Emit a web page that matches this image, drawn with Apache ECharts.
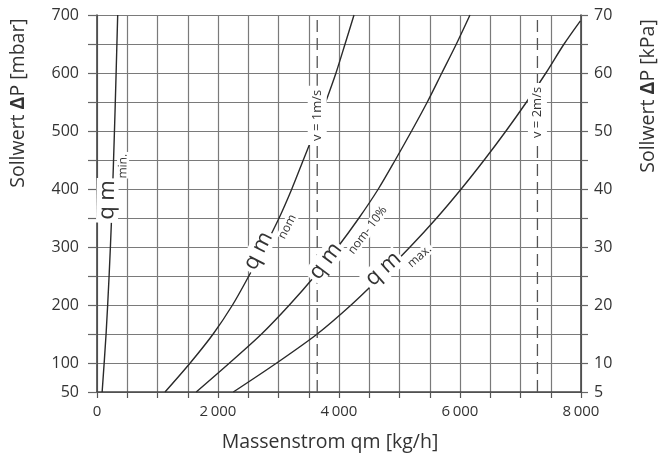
<!DOCTYPE html>
<html><head><meta charset="utf-8">
<script src="https://cdn.jsdelivr.net/npm/echarts@6/dist/echarts.min.js"></script>
<style>html,body{margin:0;padding:0;background:#fff}#c{width:668px;height:463px}</style>
</head><body><div id="c"></div>
<script>
// ---- data (mass flow kg/h, set-point pressure mbar) ----
const flowMin  = [85, 150, 200, 243, 270, 300, 342];
const dpMin    = [50, 150, 250, 355, 438, 540, 700];
const flowNom  = [1124, 1540, 1920, 2240, 2510, 2770, 3010, 3220, 3410, 3600, 3780, 3950, 4100, 4248];
const dpNom    = [50, 100, 150, 200, 250, 300, 350, 400, 450, 500, 550, 600, 650, 700];
const flowNom10 = [1640, 2190, 2720, 3180, 3600, 3980, 4330, 4650, 4930, 5200, 5460, 5700, 5940, 6165];
const dpNom10   = [50, 100, 150, 200, 250, 300, 350, 400, 450, 500, 550, 600, 650, 700];
const flowMax  = [2253, 2970, 3640, 4200, 4700, 5174, 5615, 6020, 6400, 6760, 7100, 7420, 7720, 7990];
const dpMax    = [50, 100, 150, 200, 250, 300, 350, 400, 450, 500, 550, 600, 650, 690];
const speedFlows = [3640, 7280];
const speedTexts = ['v = 1m/s', 'v = 2m/s'];
const xLabelTicks = [0, 2000, 4000, 6000, 8000];
const leftLabelTicks = [50, 100, 200, 300, 400, 500, 600, 700];
const rightLabelTicks = [5, 10, 20, 30, 40, 50, 60, 70];
const xName = 'Massenstrom qm [kg/h]';
const yNameLeft = 'Sollwert {d|Δ}P [mbar]';
const yNameRight = 'Sollwert {d|Δ}P [kPa]';
// curve labels: [flow, dp] anchor, angle
const curveLabelSubs = ['min.', 'nom', 'nom- 10%', 'max.'];
const curveLabelAt = [[258, 403], [2840, 310], [4130, 310], [4960, 272]];
const curveLabelAngle = [89, 63, 53, 42];
const speedLabelDp = [527, 532];

const FONT = 'Open Sans';
const TXT = '#333';
const pair = (xs, ys) => xs.map((x, i) => [x, ys[i]]);
const curveStyle = {color: '#2a2a2a', width: 1.4};
function curve(name, xs, ys) {
  return {name, type: 'line', data: pair(xs, ys), smooth: 0.3, symbol: 'none',
    lineStyle: curveStyle, silent: true, z: 3};
}
const series = [
  curve('min', flowMin, dpMin),
  curve('nom', flowNom, dpNom),
  curve('nom10', flowNom10, dpNom10),
  curve('max', flowMax, dpMax)
];
speedFlows.forEach((f, i) => series.push({
  name: 'v' + i, type: 'line', data: [[f, 50], [f, 700]], symbol: 'none', silent: true, z: 2,
  lineStyle: {color: '#555', width: 1.3, type: [12, 6]}
}));

const chart = echarts.init(document.getElementById('c'), null, {renderer: 'canvas'});
chart.setOption({
  animation: false,
  backgroundColor: '#fff',
  textStyle: {fontFamily: FONT},
  grid: {left: 97, right: 87, top: 15, height: 377},
  xAxis: {
    type: 'value', min: 0, max: 8000, interval: 500,
    name: xName, nameLocation: 'middle', nameGap: 40,
    nameTextStyle: {fontSize: 19.5, color: TXT, fontFamily: FONT, padding: [0, 18, 0, 0]},
    axisLine: {show: true, lineStyle: {color: '#444', width: 1.6}},
    axisTick: {show: true, length: 6, lineStyle: {color: '#555', width: 1.2}},
    axisLabel: {margin: 12, fontSize: 15, color: TXT, fontFamily: FONT,
      formatter: v => xLabelTicks.includes(v) ? (v === 0 ? '0' : String(v).replace(/(\d)(\d{3})$/, '$1\u2009$2')) : ''},
    splitLine: {show: true, lineStyle: {color: '#7a7a7a', width: 1.2}}
  },
  yAxis: [{
    type: 'value', min: 50, max: 700, interval: 50, position: 'left',
    axisLine: {show: true, lineStyle: {color: '#444', width: 1.6}},
    axisTick: {show: true, length: 9, lineStyle: {color: '#666', width: 1.2}},
    axisLabel: {margin: 18, fontSize: 16, color: TXT, fontFamily: FONT,
      formatter: v => leftLabelTicks.includes(v) ? String(v) : ''},
    splitLine: {show: true, lineStyle: {color: '#7a7a7a', width: 1.2}}
  }, {
    type: 'value', min: 5, max: 70, interval: 5, position: 'right',
    axisLine: {show: true, lineStyle: {color: '#444', width: 1.6}},
    axisTick: {show: true, length: 7, lineStyle: {color: '#666', width: 1.2}},
    axisLabel: {margin: 13, fontSize: 16, color: TXT, fontFamily: FONT,
      formatter: v => rightLabelTicks.includes(v) ? String(v) : ''},
    splitLine: {show: false}
  }],
  series
});

const graphics = [];
const toPx = p => chart.convertToPixel({xAxisIndex: 0, yAxisIndex: 0}, p);
curveLabelSubs.forEach((sub, i) => {
  const p = toPx(curveLabelAt[i]);
  graphics.push({
    type: 'text', x: p[0], y: p[1], rotation: curveLabelAngle[i] * Math.PI / 180, z: 100,
    style: {
      text: '{a|q m}{b|' + sub + '}', align: 'center', verticalAlign: 'middle',
      rich: {
        a: {fontSize: 22, fontFamily: FONT, fill: TXT, lineHeight: 32, verticalAlign: 'top', backgroundColor: '#fff', padding: [0, 2, 0, 3]},
        b: {fontSize: 12, fontFamily: FONT, fill: TXT, lineHeight: 12, verticalAlign: 'bottom', backgroundColor: '#fff', padding: [0, 2, 0, 0]}
      }
    }
  });
});
speedFlows.forEach((f, i) => {
  const p = toPx([f, speedLabelDp[i]]);
  graphics.push({
    type: 'text', x: p[0], y: p[1], rotation: Math.PI / 2, z: 100,
    style: {text: speedTexts[i], align: 'center', verticalAlign: 'middle', fontSize: 13, fontFamily: FONT,
      fill: TXT, backgroundColor: '#fff', padding: [3, 4, 3, 4]}
  });
});
// axis titles (upper-aligned as in the reference)
const nameRich = {d: {fontSize: 19.5, fontWeight: 'bold', fontFamily: FONT, fill: TXT}};
graphics.push({
  type: 'text', x: 18, y: 103, rotation: Math.PI / 2, z: 100,
  style: {text: yNameLeft, rich: nameRich, align: 'center', verticalAlign: 'middle', fontSize: 19.5, fontFamily: FONT, fill: TXT}
});
graphics.push({
  type: 'text', x: 648, y: 96, rotation: Math.PI / 2, z: 100,
  style: {text: yNameRight, rich: nameRich, align: 'center', verticalAlign: 'middle', fontSize: 19.5, fontFamily: FONT, fill: TXT}
});
chart.setOption({graphic: graphics});
</script>
</body></html>
